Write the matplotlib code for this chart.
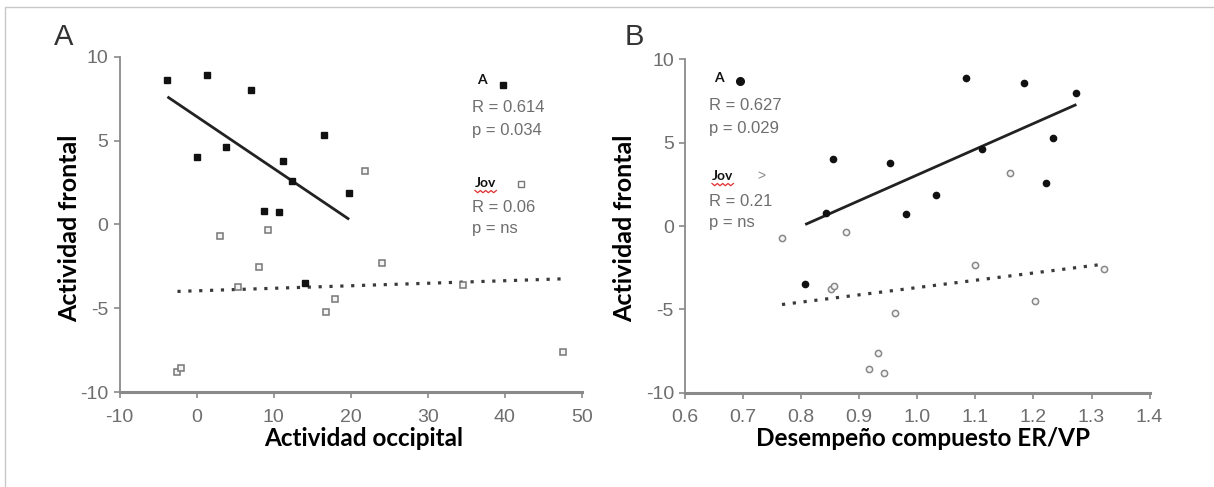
import numpy as np
import matplotlib.pyplot as plt
from matplotlib.lines import Line2D

# frontal activity (same subjects in both panels)
frontal_a = [8.6, 8.9, 8.0, 4.0, 4.6, 5.3, 3.8, 2.6, 1.85, 0.8, 0.72, -3.5]
frontal_jov = [3.2, -0.34, -0.7, -2.57, -3.76, -2.33, -5.2, -4.48, -3.62, -7.64, -8.8, -8.56]

# panel A: occipital activity
occip_a = [-3.8, 1.3, 7.0, 0.0, 3.8, 16.5, 11.2, 12.4, 19.8, 8.8, 10.7, 14.0]
occip_jov = [21.9, 9.2, 3.0, 8.1, 5.3, 24.1, 16.8, 17.9, 34.6, 47.6, -2.5, -2.0]

# panel B: composite ER/VP performance
comp_a = [1.183, 1.083, 1.274, 0.855, 1.111, 1.233, 0.953, 1.221, 1.033, 0.843, 0.981, 0.807]
comp_jov = [1.159, 0.877, 0.767, 1.321, 0.852, 1.099, 0.962, 1.203, 0.856, 0.933, 0.942, 0.917]

stats_a = ["R = 0.614", "p = 0.034", "R = 0.06", "p = ns"]
stats_b = ["R = 0.627", "p = 0.029", "R = 0.21", "p = ns"]

sans = ['Liberation Sans', 'DejaVu Sans']
bold = ['Lato', 'DejaVu Sans']
GRAY = '#6e6e6e'

fig = plt.figure(figsize=(12.14, 4.87), dpi=100)
W, H = 1214, 487


def px(x, y):
    return x / W, 1 - y / H


def fitline(ax, x, y, **kw):
    x = np.asarray(x)
    m, b = np.polyfit(x, y, 1)
    xs = np.array([x.min(), x.max()])
    ax.plot(xs, m * xs + b, **kw)


def style(ax, xlim, xticks, xfmt):
    ax.set_xlim(*xlim)
    ax.set_ylim(-10, 10)
    ax.set_xticks(xticks)
    ax.set_xticklabels([xfmt(t) for t in xticks], family=sans, fontsize=14, color=GRAY)
    ax.set_yticks([-10, -5, 0, 5, 10])
    ax.set_yticklabels(['-10', '-5', '0', '5', '10'], family=sans, fontsize=14, color=GRAY)
    for s in ['top', 'right']:
        ax.spines[s].set_visible(False)
    ax.spines['left'].set_color('#8a8a8a')
    ax.spines['left'].set_linewidth(1.3)
    ax.spines['bottom'].set_color('#8a8a8a')
    ax.spines['bottom'].set_linewidth(2.2)
    ax.tick_params(axis='both', colors='#8a8a8a', labelcolor=GRAY, length=4, width=1.2)
    ax.tick_params(axis='x', pad=8)
    ax.tick_params(axis='y', pad=4)
    ax.patch.set_alpha(0)


axA = fig.add_axes([119.7 / W, 1 - 392 / H, 462 / W, 335.3 / H])
axB = fig.add_axes([685 / W, 1 - 392.7 / H, 464.6 / W, 333.4 / H])

style(axA, (-10, 50), [-10, 0, 10, 20, 30, 40, 50], lambda t: str(t))
style(axB, (0.6, 1.4), np.round(np.arange(0.6, 1.41, 0.1), 1), lambda t: f"{t:.1f}")

# panel A
fitline(axA, occip_a, frontal_a, color='#222222', lw=2.0, solid_capstyle='butt')
fitline(axA, occip_jov, frontal_jov, color='#3a3a3a', lw=2.3, ls=(0, (1, 2.4)))
axA.plot(occip_a, frontal_a, 's', ms=4.2, mfc='#111111', mec='#111111', zorder=3)
axA.plot(occip_jov, frontal_jov, 's', ms=4.5, mfc='#f4f4f4', mec='#777777', mew=1.1, zorder=3)

# panel B
fitline(axB, comp_a, frontal_a, color='#222222', lw=2.0, solid_capstyle='butt')
fitline(axB, comp_jov, frontal_jov, color='#3a3a3a', lw=2.3, ls=(0, (1, 2.4)))
axB.plot(comp_a, frontal_a, 'o', ms=4.5, mfc='#111111', mec='#111111', zorder=3)
axB.plot(comp_jov, frontal_jov, 'o', ms=4.5, mfc='#f4f4f4', mec='#888888', mew=1.1, zorder=3)


def annot(xa, ya, stats, mk_a, mk_jov, gap):
    # group labels, markers and statistics (positions in pixels)
    fig.text(*px(xa + 10, ya), 'A', family=bold, weight='bold', fontsize=10,
             ha='center', va='center', color='#111111')
    fig.text(*px(xa, ya + 28), stats[0], family=sans, fontsize=12, ha='left', va='center', color=GRAY)
    fig.text(*px(xa, ya + 50), stats[1], family=sans, fontsize=12, ha='left', va='center', color=GRAY)
    jy = ya + gap
    t = fig.text(*px(xa + 3, jy), 'Jov', family=bold, weight='bold', fontsize=10,
                 ha='left', va='center', color='#111111')
    fig.text(*px(xa, jy + 25), stats[2], family=sans, fontsize=12, ha='left', va='center', color=GRAY)
    fig.text(*px(xa, jy + 46), stats[3], family=sans, fontsize=12, ha='left', va='center', color=GRAY)
    fig.add_artist(mk_a)
    if mk_jov is not None:
        fig.add_artist(mk_jov)
    # red spell-check squiggle under "Jov"
    fig.canvas.draw()
    bb = t.get_window_extent()
    xs = np.linspace(bb.x0, bb.x1, 9)
    ys = bb.y0 - 1.5 + np.where(np.arange(9) % 2 == 0, 0, -2.2)
    fig.add_artist(Line2D(xs / W, ys / H, color='#e03030', lw=0.9))


annot(472, 80, stats_a,
      Line2D([503 / W], [1 - 85 / H], marker='s', ms=5, mfc='#111111', mec='#111111'),
      Line2D([521 / W], [1 - 184 / H], marker='s', ms=5, mfc='white', mec='#777777'),
      103)
annot(709, 78, stats_b,
      Line2D([740 / W], [1 - 81 / H], marker='o', ms=5.5, mfc='#111111', mec='#111111'),
      None, 98)
fig.text(*px(761, 176), '>', family=sans, fontsize=10, ha='center', va='center', color='#888888')

# panel letters
fig.text(*px(64, 37), 'A', family=sans, fontsize=21, ha='center', va='center', color='#333333')
fig.text(*px(634, 37), 'B', family=sans, fontsize=21, ha='center', va='center', color='#333333')

# axis titles
fig.text(*px(70, 228), 'Actividad frontal', family=bold, weight='bold', fontsize=18,
         rotation=90, ha='center', va='center')
fig.text(*px(625, 228), 'Actividad frontal', family=bold, weight='bold', fontsize=18,
         rotation=90, ha='center', va='center')
fig.text(*px(364, 439), 'Actividad occipital', family=bold, weight='bold', fontsize=17.5,
         ha='center', va='center')
fig.text(*px(923, 439), 'Desempeño compuesto ER/VP', family=bold, weight='bold', fontsize=17.5,
         ha='center', va='center')

# thin frame on top and left edges
fig.add_artist(Line2D([5 / W, 5 / W, 1], [0, 1 - 7 / H, 1 - 7 / H], color='#c8c8c8', lw=1))

fig.savefig('out.png', dpi=100)
